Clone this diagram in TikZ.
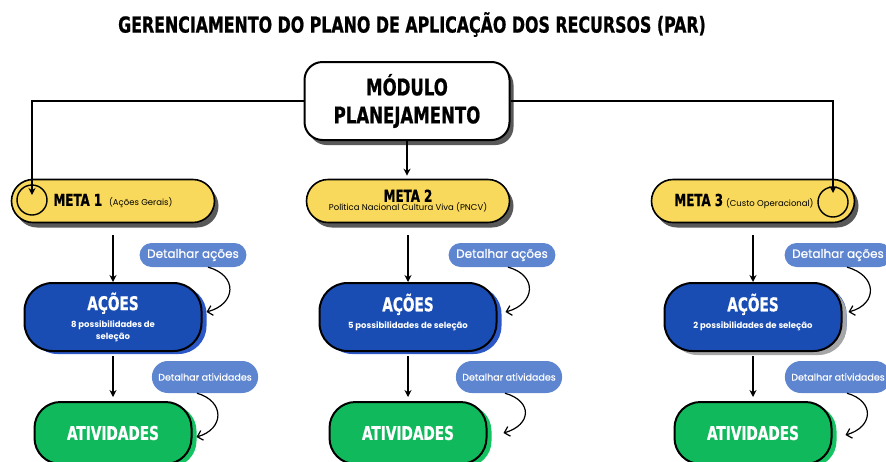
\documentclass[tikz,border=0pt]{standalone}
\usepackage{fontspec}
\setmainfont{Poppins}
\newfontfamily\headfont{DejaVu Sans Condensed Bold}[FakeStretch=0.8, FakeBold=0.8]
\newfontfamily\bubfont{Poppins}[FakeBold=0.6]
\usetikzlibrary{positioning,arrows.meta,shadows,shapes.misc}

\definecolor{metayellow}{HTML}{F9D95B}
\definecolor{acaoblue}{HTML}{1A4DB3}
\definecolor{acaoshade}{HTML}{2B58C6}
\definecolor{ativgreen}{HTML}{10B95C}
\definecolor{ativshade}{HTML}{14C463}
\definecolor{bubbleblue}{HTML}{5E85CF}

\tikzset{
    >={Stealth[length=7pt,width=7pt]}, % straight connectors
    conn/.style={->, line width=1.6pt},
    curvearrow/.style={-{Straight Barb[length=5pt,width=10pt]}, line width=1.2pt},
    greyshadow/.style={drop shadow={shadow xshift=4pt, shadow yshift=-5pt, fill=black!65, opacity=1}},
    modbox/.style={draw, line width=2pt, rounded corners=18pt, fill=white,
        minimum width=205pt, minimum height=78pt, align=center, greyshadow,
        font=\headfont\fontsize{23}{28}\selectfont},
    meta/.style={rounded rectangle, draw, line width=1.6pt, fill=metayellow,
        minimum width=203pt, minimum height=43pt, align=center, inner sep=0pt, greyshadow},
    acao/.style={draw, line width=2pt, rounded corners=28pt, fill=acaoblue, text=white,
        minimum width=177pt, minimum height=68pt, align=center,
        drop shadow={shadow xshift=5pt, shadow yshift=-3pt, fill=acaoshade, opacity=1}},
    ativ/.style={draw, line width=2pt, rounded corners=26pt, fill=ativgreen, text=white,
        minimum width=157pt, minimum height=62pt,
        font=\headfont\fontsize{19}{22}\selectfont,
        drop shadow={shadow xshift=5pt, shadow yshift=-3pt, fill=ativshade, opacity=1}},
    bubble/.style={rounded rectangle, fill=bubbleblue, text=white, inner xsep=6pt},
    ring/.style={circle, draw, line width=1.4pt, minimum size=30pt, inner sep=0pt},
}

\newcommand{\metatitle}[1]{{\headfont\fontsize{16.5}{18}\selectfont #1}}
\newcommand{\metanote}[1]{{\fontsize{8.5}{10}\selectfont #1}}
\newcommand{\acaotext}[2]{{\headfont\fontsize{19}{20}\selectfont AÇÕES}\\[5pt]
    {\bfseries\fontsize{8.5}{13}\selectfont #1}\\{\bfseries\fontsize{8.5}{13}\selectfont #2}}

\begin{document}
\begin{tikzpicture}[x=1pt, y=-1pt, node distance=116pt, on grid]
    \useasboundingbox (0,0) rectangle (886,461);

    % titulo
    \node (titulo) at (412,24.5) {\headfont\fontsize{22}{26}\selectfont
        GERENCIAMENTO DO PLANO DE APLICAÇÃO DOS RECURSOS (PAR)};

    % modulo
    \node[modbox] (mod) at (407,101) {MÓDULO\\PLANEJAMENTO};

    % metas
    \node[meta] (m1) at (113,201) {\metatitle{META 1}\hspace{7pt}\metanote{(Ações Gerais)}};
    \node[meta] (m2) at (408,201) {\metatitle{META 2}\\[-3pt]\metanote{Política Nacional Cultura Viva (PNCV)}};
    \node[meta] (m3) at (753,201) {\metatitle{META 3}\hspace{3pt}\metanote{(Custo Operacional)}\hspace{18pt}};
    \node[ring] (c1) at (32,200) {};
    \node[ring] (c3) at (833,202) {};

    % acoes
    \node[acao] (ac1) [below=of m1] {\acaotext{8 possibilidades de}{seleção}};
    \node[acao] (ac2) [below=of m2] {\acaotext{5 possibilidades de seleção}{\phantom{x}}};
    \node[acao, drop shadow={shadow xshift=5pt, shadow yshift=-4pt, fill=black!35, opacity=1}]
        (ac3) [below=of m3] {\acaotext{2 possibilidades de seleção}{\phantom{x}}};

    % atividades
    \node[ativ] (at1) [below=of ac1] {ATIVIDADES};
    \node[ativ] (at2) [below=of ac2] {ATIVIDADES};
    \node[ativ] (at3) [below=of ac3] {ATIVIDADES};

    % balões
    \node[bubble, minimum height=24pt, font=\bubfont\fontsize{12}{14}\selectfont] (da1) at (193,255) {Detalhar ações};
    \node[bubble, minimum height=24pt, font=\bubfont\fontsize{12}{14}\selectfont] (da2) at (502,255) {Detalhar ações};
    \node[bubble, minimum height=24pt, font=\bubfont\fontsize{12}{14}\selectfont] (da3) at (838,255) {Detalhar ações};
    \node[bubble, minimum height=32pt, font=\bubfont\fontsize{9.5}{11}\selectfont] (dt1) at (205,377) {Detalhar atividades};
    \node[bubble, minimum height=32pt, font=\bubfont\fontsize{9.5}{11}\selectfont] (dt2) at (509,377) {Detalhar atividades};
    \node[bubble, minimum height=32pt, font=\bubfont\fontsize{9.5}{11}\selectfont] (dt3) at (838,377) {Detalhar atividades};

    % ligações
    \draw[conn, shorten >=5pt] (mod.west) -| (c1.center);
    \draw[conn, shorten >=9pt] (mod.east) -| (c3.center);
    \draw[conn, shorten >=3pt] (mod.south) -- (mod.south |- m2.north);

    \draw[conn, shorten <=12pt] (m1) -- (ac1);
    \draw[conn, shorten <=12pt] (m2) -- (ac2);
    \draw[conn, shorten <=12pt] (m3) -- (ac3);
    \draw[conn, shorten <=4pt, shorten >=4pt] (ac1) -- (at1);
    \draw[conn, shorten <=4pt, shorten >=4pt] (ac2) -- (at2);
    \draw[conn, shorten <=4pt, shorten >=4pt] (ac3) -- (at3);

    \draw[curvearrow] ([xshift=15pt]da1.south) .. controls +(30,8) and +(30,-8) .. ([xshift=4pt,yshift=5pt]ac1.east);
    \draw[curvearrow] ([xshift=6pt]da2.south) .. controls +(30,8) and +(30,-8) .. ([xshift=8pt,yshift=5pt]ac2.east);
    \draw[curvearrow] ([xshift=9pt]da3.south) .. controls +(30,8) and +(30,-8) .. ([xshift=6pt,yshift=5pt]ac3.east);
    \draw[curvearrow] ([xshift=-8pt]dt1.south) .. controls +(28,8) and +(28,-8) .. ([xshift=4pt,yshift=-4pt]at1.east);
    \draw[curvearrow] ([xshift=-4pt]dt2.south) .. controls +(28,8) and +(28,-8) .. ([xshift=16pt]at2.east);
    \draw[curvearrow] ([xshift=9pt]dt3.south) .. controls +(28,8) and +(28,-8) .. ([xshift=13pt,yshift=-2pt]at3.east);
\end{tikzpicture}
\end{document}
